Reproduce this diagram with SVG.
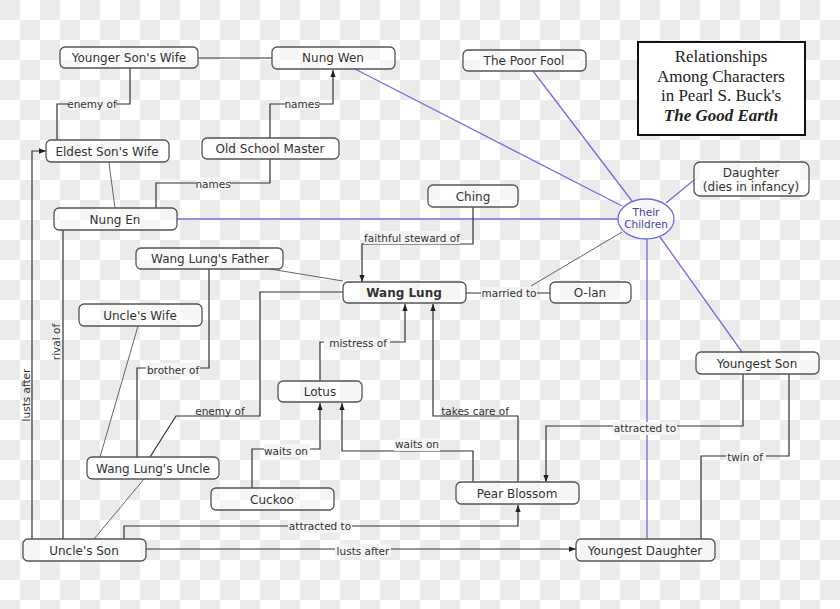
<svg xmlns="http://www.w3.org/2000/svg" width="840" height="609" viewBox="0 0 840 609">
<defs>
<pattern id="chk" width="40" height="40" patternUnits="userSpaceOnUse">
<rect width="40" height="40" fill="#ffffff"/>
<rect width="20" height="20" fill="#ebebeb"/>
<rect x="20" y="20" width="20" height="20" fill="#ebebeb"/>
</pattern>
<marker id="ar" viewBox="0 0 8 8" refX="8" refY="4" markerWidth="6" markerHeight="6" orient="auto"><path d="M0,1 L8,4 L0,7 z" fill="#222"/></marker>
<style>
.n rect{fill:#fff;fill-opacity:0.55;stroke:#555;stroke-width:1.3}
.n text,.lb{font-family:"DejaVu Sans",sans-serif;font-size:12px;fill:#333;text-anchor:middle}
.lb{font-size:10.5px}
.c{fill:none;stroke:#333;stroke-width:1.2}
.g{fill:none;stroke:#666;stroke-width:1}
.b{fill:none;stroke:#6f6fe0;stroke-width:1.3}
.a{marker-end:url(#ar)}
.bg{fill:#f4f4f4}
</style>
</defs>
<rect width="840" height="609" fill="url(#chk)"/>
<g id="connectors">
<path class="c" d="M198,58 H272"/>
<path class="c" d="M130,68 V104 H57 V140"/>
<path class="c a" d="M270,138 V104 H333 V70"/>
<path class="c" d="M270,159 V183 H156 V208"/>
<path class="g" d="M109,163 L115,208"/>
<path class="b" d="M177,219 H618"/>
<path class="b" d="M355,69 L622,206"/>
<path class="b" d="M533,71 L632,201"/>
<path class="b" d="M694,180 L666,203"/>
<path class="b" d="M647,239 V539"/>
<path class="b" d="M660,237 L742,352"/>
<path class="g" d="M622,232 L531,286"/>
<path class="c" d="M466,293 H550"/>
<path class="c a" d="M473,207 V244 H362 V282"/>
<path class="g" d="M270,269 L343,281"/>
<path class="c" d="M209,269 V368 H137 V457"/>
<path class="c" d="M343,292 H260 V416 H176 L150,457"/>
<path class="g" d="M138,326 L100,457"/>
<path class="g" d="M144,479 L94,539"/>
<path class="c a" d="M320,381 V342 H405 V304"/>
<path class="c a" d="M252,488 V449 H320 V403"/>
<path class="c a" d="M473,482 V451 H342 V403"/>
<path class="c a" d="M518,482 V416 H433 V304"/>
<path class="c a" d="M743,374 V426 H546 V482"/>
<path class="c" d="M789,374 V456 H701 V539"/>
<path class="c a" d="M124,539 V526 H518 V505"/>
<path class="c a" d="M146,549 H576"/>
<path class="c a" d="M32,539 V151 H46"/>
<path class="c" d="M63,230 V539"/>
<g class="lb">
<rect class="bg" x="68" y="97" width="48" height="13"/><text class="lb" x="92" y="108">enemy of</text>
<rect class="bg" x="285" y="97" width="34" height="13"/><text class="lb" x="302" y="108">names</text>
<rect class="bg" x="196" y="177" width="34" height="13"/><text class="lb" x="213" y="188">names</text>
<rect class="bg" x="364" y="231" width="96" height="13"/><text class="lb" x="412" y="242">faithful steward of</text>
<rect class="bg" x="481" y="287" width="56" height="13"/><text class="lb" x="509" y="297">married to</text>
<rect class="bg" x="324" y="337" width="66" height="13"/><text class="lb" x="358" y="347">mistress of</text>
<rect class="bg" x="146" y="363" width="54" height="13"/><text class="lb" x="173" y="374">brother of</text>
<text class="lb" x="220" y="415">enemy of</text>
<text class="lb" x="475" y="415">takes care of</text>
<rect class="bg" x="394" y="438" width="46" height="13"/><text class="lb" x="417" y="448">waits on</text>
<rect class="bg" x="264" y="444" width="46" height="13"/><text class="lb" x="286" y="455">waits on</text>
<rect class="bg" x="613" y="422" width="64" height="13"/><text class="lb" x="645" y="432">attracted to</text>
<rect class="bg" x="726" y="451" width="40" height="13"/><text class="lb" x="745" y="461">twin of</text>
<rect class="bg" x="288" y="520" width="64" height="13"/><text class="lb" x="320" y="530">attracted to</text>
<rect class="bg" x="335" y="544" width="56" height="13"/><text class="lb" x="363" y="555">lusts after</text>
<text class="lb" transform="translate(30,395) rotate(-90)">lusts after</text>
<text class="lb" transform="translate(60,342) rotate(-90)">rival of</text>
</g>
</g>
<g id="title"><rect x="638" y="42" width="167" height="93" fill="#fff" stroke="#111" stroke-width="2"/>
<g font-family="Liberation Serif,serif" font-size="17" fill="#222" text-anchor="middle">
<text x="721" y="62">Relationships</text><text x="721" y="82">Among Characters</text><text x="721" y="101">in Pearl S. Buck's</text>
<text x="721" y="121" font-weight="bold" font-style="italic">The Good Earth</text></g></g>
<g id="their-children"><ellipse cx="646" cy="219" rx="28" ry="20" fill="#fff" fill-opacity="0.55" stroke="#6f6fe0" stroke-width="1.3"/>
<text x="646" y="216" font-family="DejaVu Sans,sans-serif" font-size="10.5" fill="#4444aa" text-anchor="middle">Their</text>
<text x="646" y="228" font-family="DejaVu Sans,sans-serif" font-size="10.5" fill="#4444aa" text-anchor="middle">Children</text></g>
<g id="younger-sons-wife" class="n"><rect x="60" y="47" width="138" height="21" rx="5"/><text x="129" y="62">Younger Son's Wife</text></g>
<g id="nung-wen" class="n"><rect x="272" y="47" width="123" height="22" rx="5"/><text x="333" y="62">Nung Wen</text></g>
<g id="eldest-sons-wife" class="n"><rect x="46" y="140" width="123" height="22" rx="5"/><text x="107" y="156">Eldest Son's Wife</text></g>
<g id="old-school-master" class="n"><rect x="202" y="138" width="137" height="21" rx="5"/><text x="270" y="153">Old School Master</text></g>
<g id="nung-en" class="n"><rect x="54" y="208" width="123" height="22" rx="5"/><text x="115" y="224">Nung En</text></g>
<g id="wang-lungs-father" class="n"><rect x="136" y="248" width="147" height="21" rx="5"/><text x="210" y="263">Wang Lung's Father</text></g>
<g id="wang-lung" class="n"><rect x="343" y="282" width="123" height="21" rx="5"/><text x="404" y="297" font-weight="bold">Wang Lung</text></g>
<g id="uncles-wife" class="n"><rect x="79" y="304" width="123" height="22" rx="5"/><text x="140" y="320">Uncle's Wife</text></g>
<g id="lotus" class="n"><rect x="278" y="381" width="84" height="21" rx="5"/><text x="320" y="396">Lotus</text></g>
<g id="wang-lungs-uncle" class="n"><rect x="87" y="457" width="132" height="22" rx="5"/><text x="153" y="473">Wang Lung's Uncle</text></g>
<g id="cuckoo" class="n"><rect x="211" y="488" width="123" height="22" rx="5"/><text x="272" y="504">Cuckoo</text></g>
<g id="uncles-son" class="n"><rect x="23" y="539" width="123" height="22" rx="5"/><text x="84" y="555">Uncle's Son</text></g>
<g id="the-poor-fool" class="n"><rect x="463" y="50" width="123" height="21" rx="5"/><text x="524" y="65">The Poor Fool</text></g>
<g id="ching" class="n"><rect x="428" y="185" width="90" height="22" rx="5"/><text x="473" y="201">Ching</text></g>
<g id="daughter" class="n"><rect x="694" y="162" width="115" height="34" rx="6"/><text x="751" y="177">Daughter</text><text x="751" y="191">(dies in infancy)</text></g>
<g id="o-lan" class="n"><rect x="550" y="282" width="81" height="21" rx="5"/><text x="590" y="297">O-lan</text></g>
<g id="youngest-son" class="n"><rect x="696" y="352" width="123" height="22" rx="5"/><text x="757" y="368">Youngest Son</text></g>
<g id="pear-blossom" class="n"><rect x="456" y="482" width="123" height="22" rx="5"/><text x="517" y="498">Pear Blossom</text></g>
<g id="youngest-daughter" class="n"><rect x="576" y="539" width="139" height="22" rx="5"/><text x="645" y="555">Youngest Daughter</text></g>
</svg>
